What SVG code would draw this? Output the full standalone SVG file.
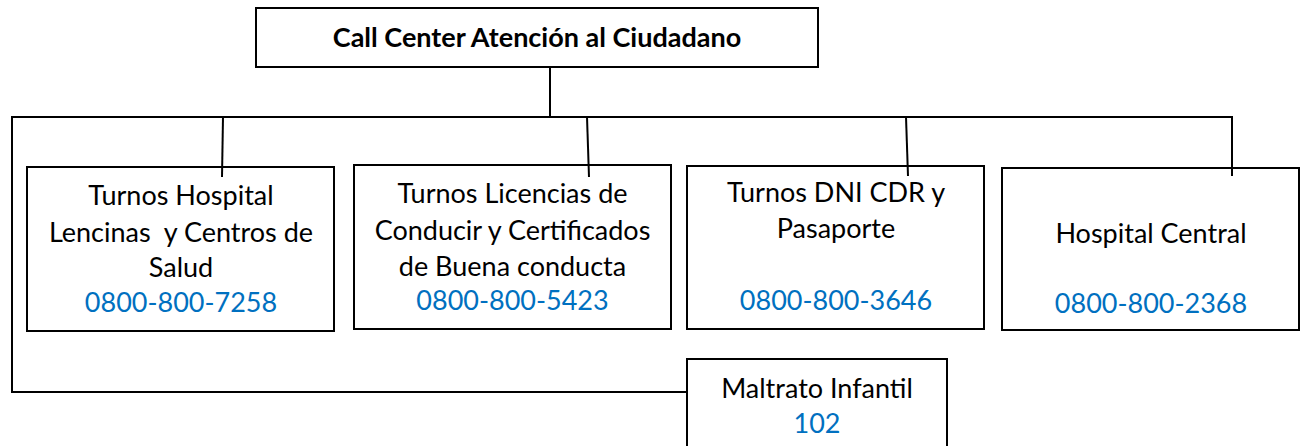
<svg xmlns="http://www.w3.org/2000/svg" width="1305" height="446" viewBox="0 0 1305 446">
<style>
.box{fill:#fff;stroke:#000;stroke-width:2}
.lbl{font-family:Lato,"Noto Sans","Liberation Sans",sans-serif;font-size:27px;fill:#000;text-anchor:middle}
.tel{fill:#0070C0}
.title{font-family:Lato,"Noto Sans","Liberation Sans",sans-serif;font-size:27px;font-weight:bold;fill:#000;text-anchor:middle}
.con{fill:none;stroke:#000;stroke-width:2}
</style>
<rect width="1305" height="446" fill="#fff"/>
<g id="connectors">
<line class="con" x1="550" y1="67" x2="550" y2="117"/>
<line class="con" x1="11" y1="117" x2="1233" y2="117"/>
<line class="con" x1="223" y1="117" x2="222" y2="177"/>
<line class="con" x1="587" y1="117" x2="589" y2="177"/>
<line class="con" x1="906" y1="117" x2="908" y2="176"/>
<line class="con" x1="1232" y1="117" x2="1232" y2="176"/>
<polyline class="con" points="12,117 12,392 687,392"/>
</g>
<g id="root">
<rect class="box" x="256" y="8" width="562" height="59"/>
<text class="title" x="537" y="47">Call Center Atención al Ciudadano</text>
</g>
<g id="n1">
<rect class="box" x="27" y="167" width="307" height="164" style="fill:none"/>
<text class="lbl" x="181" y="205">Turnos Hospital</text>
<text class="lbl" x="181" y="242" xml:space="preserve">Lencinas  y Centros de</text>
<text class="lbl" x="181" y="277">Salud</text>
<text class="lbl tel" x="181" y="312">0800-800-7258</text>
</g>
<g id="n2">
<rect class="box" x="354" y="165" width="317" height="164" style="fill:none"/>
<text class="lbl" x="512.5" y="203">Turnos Licencias de</text>
<text class="lbl" x="512.5" y="240">Conducir y Certificados</text>
<text class="lbl" x="512.5" y="276">de Buena conducta</text>
<text class="lbl tel" x="512.5" y="310">0800-800-5423</text>
</g>
<g id="n3">
<rect class="box" x="687" y="166" width="297" height="163" style="fill:none"/>
<text class="lbl" x="836" y="202">Turnos DNI CDR y</text>
<text class="lbl" x="836" y="238">Pasaporte</text>
<text class="lbl tel" x="836" y="310">0800-800-3646</text>
</g>
<g id="n4">
<rect class="box" x="1002" y="168" width="297" height="162" style="fill:none"/>
<text class="lbl" x="1151" y="243">Hospital Central</text>
<text class="lbl tel" x="1151" y="313">0800-800-2368</text>
</g>
<g id="n5">
<rect class="box" x="687" y="359" width="260" height="100"/>
<text class="lbl" x="817" y="398">Maltrato Infantil</text>
<text class="lbl tel" x="817" y="433">102</text>
</g>
</svg>
